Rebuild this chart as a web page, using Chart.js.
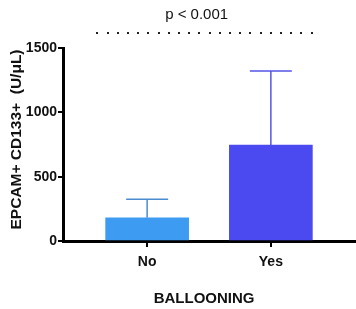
<!DOCTYPE html>
<html>
<head>
<meta charset="utf-8">
<script src="https://cdn.jsdelivr.net/npm/chart.js@4"></script>
<style>
  html, body { margin: 0; padding: 0; background: #fff; }
  #wrap { width: 356px; height: 309px; }
</style>
</head>
<body>
<div id="wrap"><canvas id="c" width="356" height="309"></canvas></div>
<script>
"use strict";

// data
var categories = ["No", "Yes"];
var means = [181, 746];
var upperErr = [143, 575];            // SD above the mean
var barColors = ["#3d9cf2", "#4a4af0"];
var errColors = ["#4d8bd0", "#5656e6"];
var yTicks = [0, 500, 1000, 1500];
var pLabel = "p < 0.001";
var xTitle = "BALLOONING";
var yTitle = "EPCAM+ CD133+  (U/\u03bcL)";

var FONT = "'Liberation Sans', Arial, sans-serif";

// error bars, p value bracket and axis titles
var extras = {
    id: "extras",
    afterDatasetsDraw: function (chart) {
        var ctx = chart.ctx,
            xs = chart.scales.x,
            ys = chart.scales.y,
            area = chart.chartArea;
        ctx.save();
        means.forEach(function (m, i) {
            var x = xs.getPixelForValue(i);
            var y0 = ys.getPixelForValue(m);
            var y1 = ys.getPixelForValue(m + upperErr[i]);
            ctx.strokeStyle = errColors[i];
            ctx.lineWidth = 1.5;
            ctx.beginPath();
            ctx.moveTo(x, y0);
            ctx.lineTo(x, y1);
            ctx.moveTo(x - 21, y1);
            ctx.lineTo(x + 21, y1);
            ctx.stroke();
        });

        // dotted bracket
        var xa = xs.getPixelForValue(-0.41),
            xb = xs.getPixelForValue(1.33);
        ctx.fillStyle = "#222";
        for (var x = xa; x <= xb; x += 10.2) {
            ctx.fillRect(Math.round(x), 32, 2, 2);
        }
        ctx.font = "15px " + FONT;
        ctx.textAlign = "center";
        ctx.textBaseline = "middle";
        ctx.fillStyle = "#111";
        ctx.fillText(pLabel, xs.getPixelForValue(0.4), 15);

        // axis titles
        ctx.font = "bold 15px " + FONT;
        ctx.fillText(xTitle, xs.getPixelForValue(0.46), area.bottom + 58);
        ctx.translate(17, (area.top + area.bottom) / 2 - 5);
        ctx.rotate(-Math.PI / 2);
        ctx.font = "bold 15.5px " + FONT;
        ctx.fillText(yTitle, 0, 0);
        ctx.restore();
    }
};

new Chart(document.getElementById("c"), {
    type: "bar",
    data: {
        datasets: [{
            data: means.map(function (v, i) { return { x: i, y: v }; }),
            backgroundColor: barColors,
            borderWidth: 0,
            barThickness: 83
        }]
    },
    options: {
        responsive: false,
        animation: false,
        layout: { padding: { top: 48, right: 1, left: 0, bottom: 0 } },
        plugins: { legend: { display: false }, tooltip: { enabled: false } },
        scales: {
            x: {
                type: "linear",
                offset: false,
                min: -0.68,
                max: 1.68,
                afterBuildTicks: function (scale) {
                    scale.ticks = categories.map(function (c, i) { return { value: i }; });
                },
                afterFit: function (scale) { scale.height = 68; },
                ticks: {
                    callback: function (v) { return categories[v]; },
                    color: "#111",
                    font: { family: FONT, size: 14, weight: "bold" },
                    padding: 7
                },
                grid: { display: true, offset: false, drawOnChartArea: false, drawTicks: true, tickLength: 6, color: "#000", lineWidth: 2 },
                border: { display: true, color: "#000", width: 3 }
            },
            y: {
                min: 0,
                max: 1500,
                afterBuildTicks: function (scale) {
                    scale.ticks = yTicks.map(function (v) { return { value: v }; });
                },
                afterFit: function (scale) { scale.width = 63; },
                ticks: {
                    callback: function (v) { return String(v); },
                    color: "#111",
                    font: { family: FONT, size: 14, weight: "bold" },
                    padding: 1
                },
                grid: { display: true, drawOnChartArea: false, drawTicks: true, tickLength: 5, color: "#000", lineWidth: 2 },
                border: { display: true, color: "#000", width: 3 }
            }
        }
    },
    plugins: [extras]
});
</script>
</body>
</html>
